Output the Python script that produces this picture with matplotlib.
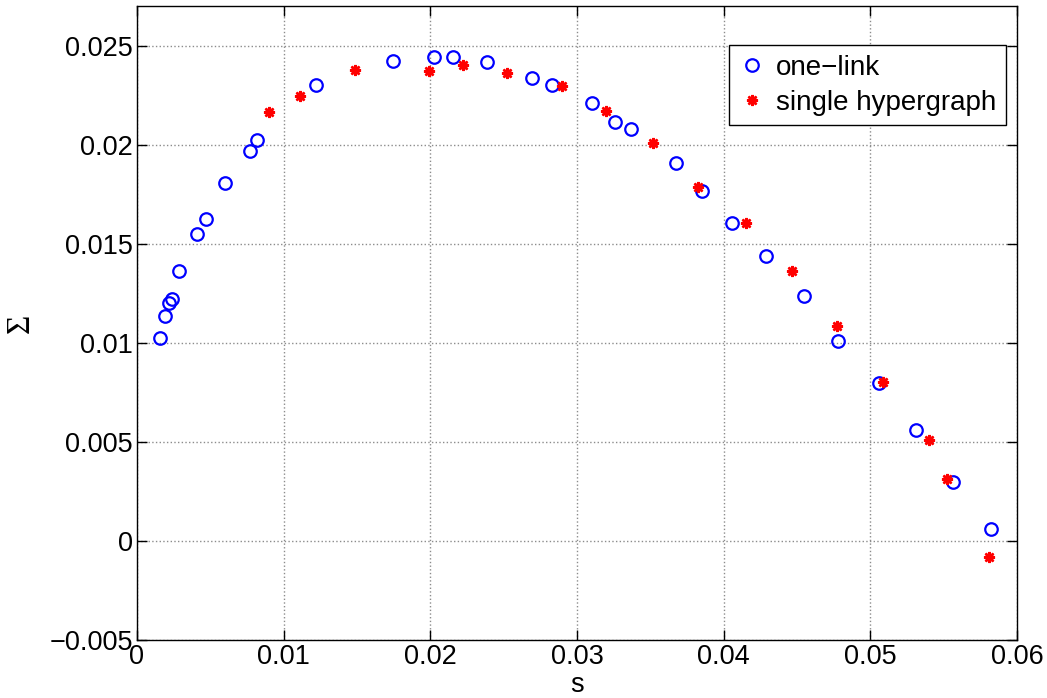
import numpy as np
import matplotlib
matplotlib.use("Agg")
import matplotlib.pyplot as plt

# one-link data (s, Sigma)
s_one = [0.00154, 0.00192, 0.00220, 0.00236, 0.00288, 0.00407, 0.00472, 0.00602,
         0.00772, 0.00818, 0.01222, 0.01748, 0.02025, 0.02155, 0.02389, 0.02694,
         0.02828, 0.03105, 0.03260, 0.03367, 0.03676, 0.03855, 0.04060, 0.04290,
         0.04551, 0.04779, 0.05061, 0.05313, 0.05561, 0.05825]
sig_one = [0.01024, 0.01136, 0.01203, 0.01220, 0.01363, 0.01551, 0.01624, 0.01805,
           0.01969, 0.02023, 0.02299, 0.02421, 0.02445, 0.02445, 0.02416, 0.02336,
           0.02299, 0.02211, 0.02114, 0.02077, 0.01906, 0.01766, 0.01603, 0.01440,
           0.01235, 0.01007, 0.00797, 0.00562, 0.00299, 0.00061]

# single hypergraph data
s_hyp = [0.00902, 0.01113, 0.01484, 0.01993, 0.02223, 0.02521, 0.02900, 0.03196,
         0.03519, 0.03826, 0.04149, 0.04469, 0.04776, 0.05086, 0.05397, 0.05520,
         0.05809]
sig_hyp = [0.02166, 0.02248, 0.02379, 0.02374, 0.02403, 0.02362, 0.02295, 0.02169,
           0.02006, 0.01788, 0.01603, 0.01363, 0.01086, 0.00800, 0.00510, 0.00313,
           -0.00080]

xticks = [0, 0.01, 0.02, 0.03, 0.04, 0.05, 0.06]
xticklabels = ['0', '0.01', '0.02', '0.03', '0.04', '0.05', '0.06']
yticks = [-0.005, 0, 0.005, 0.01, 0.015, 0.02, 0.025]
yticklabels = ['\u22120.005', '0', '0.005', '0.01', '0.015', '0.02', '0.025']

plt.rcParams['font.family'] = ['Liberation Sans', 'DejaVu Sans']

fig = plt.figure(figsize=(10.47, 6.98), dpi=100)
ax = fig.add_axes([137/1047, 1 - 640/698, 880/1047, 634/698])

ax.plot(s_one, sig_one, 'o', markersize=9, markerfacecolor='none',
        markeredgecolor='blue', markeredgewidth=1.6, label='one\u2212link', zorder=3)
ax.plot(s_hyp, sig_hyp, linestyle='none', marker=(8, 2, 0), markersize=8,
        markeredgecolor='red', markeredgewidth=1.8, color='red',
        label='single hypergraph', zorder=3)

ax.set_xlim(0, 0.06)
ax.set_ylim(-0.005, 0.027)
ax.set_xticks(xticks)
ax.set_xticklabels(xticklabels)
ax.set_yticks(yticks)
ax.set_yticklabels(yticklabels)
ax.grid(True, linestyle=':', color='#8c8c8c', linewidth=1)
ax.tick_params(direction='in', length=7, width=1, top=True, right=True,
               labelsize=19.5, pad=3)
for sp in ax.spines.values():
    sp.set_linewidth(1)

ax.set_xlabel('s', fontsize=19.5, labelpad=1)
ax.set_ylabel('\u03a3', fontsize=24, family=['Liberation Serif', 'DejaVu Serif'],
              labelpad=10)

leg = ax.legend(loc='upper right', bbox_to_anchor=(0.9875, 0.9385),
                borderaxespad=0, fontsize=20, fancybox=False, framealpha=1,
                edgecolor='black', handlelength=1.0, handletextpad=0.35,
                borderpad=0.35, labelspacing=0.32)
leg.get_frame().set_linewidth(1)

fig.savefig('out.png', dpi=100)
